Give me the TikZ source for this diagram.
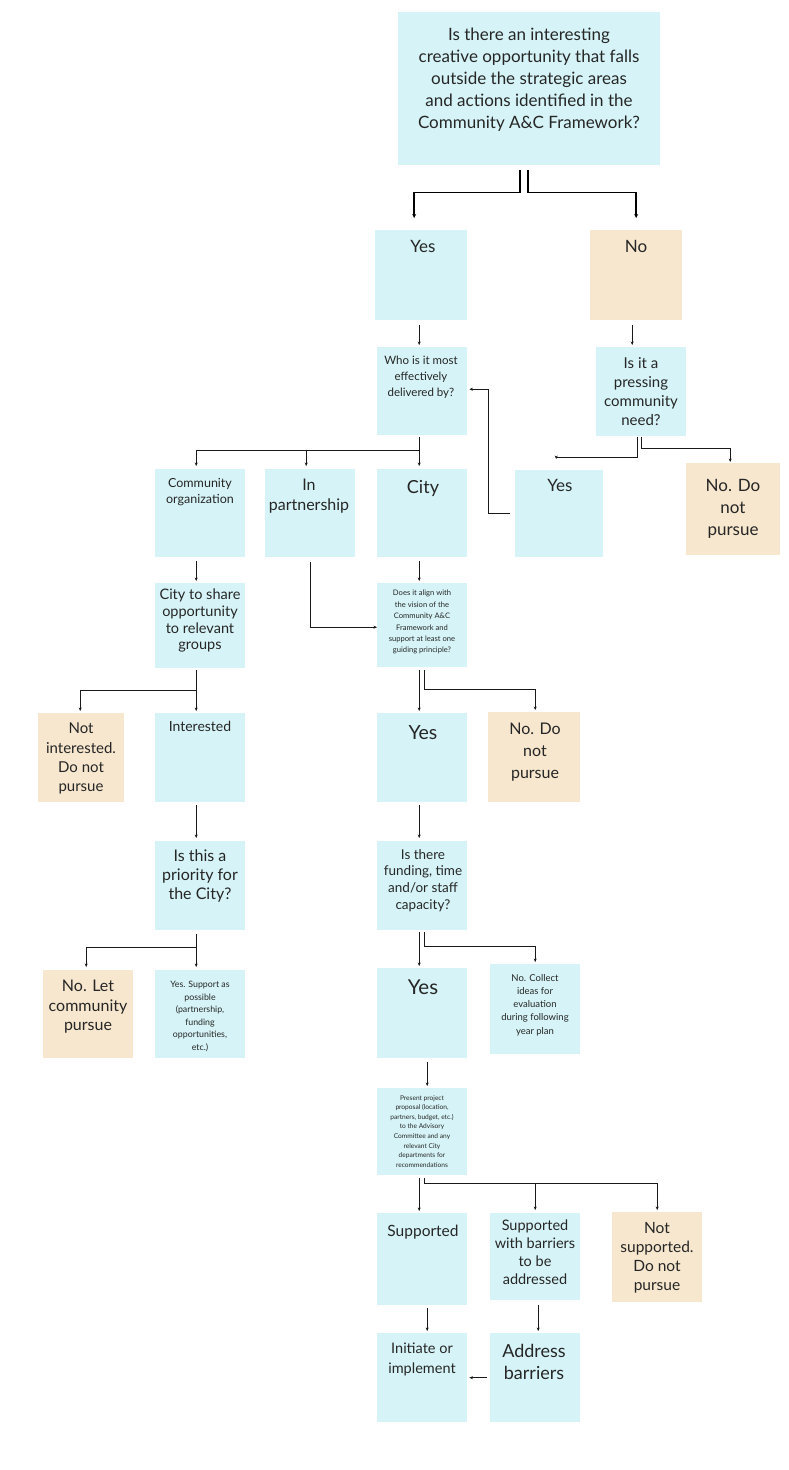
\documentclass[tikz,border=0pt]{standalone}
\usepackage{fontspec}
\setmainfont{Lato}
\usetikzlibrary{arrows.meta,calc}
\definecolor{cy}{RGB}{214,244,247}
\definecolor{be}{RGB}{246,231,206}
\tikzset{
 box/.style={fill=cy, draw=none, inner sep=0, anchor=north west},
 bbox/.style={box, fill=be},
 txt/.style={inner sep=0, align=center, anchor=north, text=black!85},
 con/.style={draw=black!90, line width=0.9pt, -{Stealth[length=3.5pt,width=3pt]}},
 tcon/.style={draw=black, line width=1.8pt, -{Stealth[length=4pt,width=4pt]}},
}
\newcommand\boxtext[6]{\node[txt,font=\fontsize{#4}{#5}\selectfont] (#1) at (#2,#3) {#6};}
\begin{document}
\begin{tikzpicture}[x=1pt,y=-1pt]
\useasboundingbox (0,0) rectangle (789,1470);
% boxes
\node[box,minimum width=262,minimum height=153] (top) at (398,12) {};
\node[box,minimum width=92,minimum height=90] (yesA) at (375,230) {};
\node[bbox,minimum width=92,minimum height=90] (noA) at (590,230) {};
\node[box,minimum width=90,minimum height=88] (who) at (377,347) {};
\node[box,minimum width=90,minimum height=89] (press) at (596,347) {};
\node[box,minimum width=88,minimum height=87] (yesR) at (515,470) {};
\node[bbox,minimum width=94,minimum height=92] (noR) at (686,463) {};
\node[box,minimum width=90,minimum height=88] (comm) at (155,469) {};
\node[box,minimum width=90,minimum height=88] (part) at (265,469) {};
\node[box,minimum width=90,minimum height=88] (city) at (377,469) {};
\node[box,minimum width=90,minimum height=84] (align) at (377,583) {};
\node[box,minimum width=90,minimum height=85] (share) at (155,583) {};
\node[bbox,minimum width=86,minimum height=89] (notint) at (38,713) {};
\node[box,minimum width=90,minimum height=89] (inter) at (155,713) {};
\node[box,minimum width=90,minimum height=89] (yesB) at (377,713) {};
\node[bbox,minimum width=92,minimum height=90] (noB) at (488,712) {};
\node[box,minimum width=90,minimum height=89] (prio) at (155,841) {};
\node[box,minimum width=90,minimum height=89] (fund) at (377,841) {};
\node[bbox,minimum width=90,minimum height=88] (nolet) at (43,970) {};
\node[box,minimum width=90,minimum height=88] (yessup) at (155,970) {};
\node[box,minimum width=90,minimum height=90] (yesC) at (377,968) {};
\node[box,minimum width=90,minimum height=90] (collect) at (490,964) {};
\node[box,minimum width=90,minimum height=87] (present) at (377,1088) {};
\node[box,minimum width=90,minimum height=92] (supp) at (377,1213) {};
\node[box,minimum width=90,minimum height=87] (suppb) at (490,1213) {};
\node[bbox,minimum width=90,minimum height=90] (notsupp) at (612,1212) {};
\node[box,minimum width=90,minimum height=89] (init) at (377,1333) {};
\node[box,minimum width=90,minimum height=89] (addr) at (490,1333) {};
% texts
\boxtext{topt}{529}{28}{17}{22}{Is there an interesting\\creative opportunity that falls\\outside the strategic areas\\and actions identified in the\\Community A\&C Framework?}
\boxtext{yesAt}{423}{240}{17}{22}{Yes}
\boxtext{noAt}{636}{240}{17}{22}{No}
\boxtext{whot}{421}{356}{11.5}{16}{Who is it most\\effectively\\delivered by?}
\boxtext{presst}{641}{357}{15}{19}{Is it a\\pressing\\community\\need?}
\boxtext{yesRt}{560}{479}{17}{22}{Yes}
\boxtext{noRt}{733}{479}{17}{22}{No. Do\\not\\pursue}
\boxtext{commt}{200}{478}{12.5}{16.5}{Community\\organization}
\boxtext{partt}{309}{479}{16}{19.5}{In\\partnership}
\boxtext{cityt}{423}{480}{18}{22}{City}
\boxtext{alignt}{422}{590}{7.6}{11.4}{Does it align with\\the vision of the\\Community A\&C\\Framework and\\support at least one\\guiding principle?}
\boxtext{sharet}{200}{589}{14.5}{16.7}{City to share\\opportunity\\to relevant\\groups}
\boxtext{notintt}{81}{723}{15}{19.3}{Not\\interested.\\Do not\\pursue}
\boxtext{intert}{200}{721}{14}{18}{Interested}
\boxtext{yesBt}{423}{725}{19.5}{22}{Yes}
\boxtext{noBt}{535}{723}{16}{22}{No. Do\\not\\pursue}
\boxtext{priot}{200}{850}{16}{19}{Is this a\\priority for\\the City?}
\boxtext{fundt}{423}{849}{13.5}{16.7}{Is there\\funding, time\\and/or staff\\capacity?}
\boxtext{nolett}{88}{980}{16}{19.5}{No. Let\\community\\pursue}
\boxtext{yessupt}{200}{981}{8.8}{12.5}{Yes. Support as\\possible\\(partnership,\\funding\\opportunities,\\etc.)}
\boxtext{yesCt}{423}{980}{20.5}{24}{Yes}
\boxtext{collectt}{535}{974}{9.5}{13.2}{No. Collect\\ideas for\\evaluation\\during following\\year plan}
\boxtext{presentt}{422}{1095}{6.6}{9.6}{Present project\\proposal (location,\\partners, budget, etc.)\\to the Advisory\\Committee and any\\relevant City\\departments for\\recommendations}
\boxtext{suppt}{423}{1225}{15.5}{19}{Supported}
\boxtext{suppbt}{535}{1220}{14.5}{18}{Supported\\with barriers\\to be\\addressed}
\boxtext{notsuppt}{657}{1222}{15.5}{19}{Not\\supported.\\Do not\\pursue}
\boxtext{initt}{422}{1343}{14.5}{20}{Initiate or\\implement}
\boxtext{addrt}{534}{1344}{18}{22.5}{Address\\barriers}
% connectors
\draw[tcon] ($(top.south)+(-9,5)$) -- ++(0,22) -| ($(yesA.north)+(-7,-12)$);
\draw[tcon] ($(top.south)+(-1,5)$) -- ++(0,22) -| ($(noA.north)+(0,-12)$);
\draw[con] ($(yesA.south)+(-2,5)$) -- ($(who.north)+(-3,-2)$);
\draw[con] ($(noA.south)+(-4,5)$) -- ($(press.north)+(-9,-2)$);
\draw[con] ($(press.south)+(-4,1)$) -- ++(0,20) -| ($(yesR.north)+(-3,-11)$);
\draw[con] ($(press.south)+(0,1)$) -- ++(0,11) -| ($(noR.north)+(-3,-1)$);
\draw[con] ($(yesR.west)+(-5,0)$) -- ++(-22,0) |- ($(who.east)+(2,-2)$);
\draw[con] ($(who.south)+(-3,2)$) -- ++(0,13) -| ($(comm.north)+(-4,-3)$);
\draw[con] ($(who.south)+(-3,2)$) -- ++(0,13) -| ($(part.north)+(-4,-3)$);
\draw[con] ($(who.south)+(-3,2)$) -- ($(city.north)+(-3,-3)$);
\draw[con] ($(city.south)+(-3,4)$) -- ($(align.north)+(-3,-2)$);
\draw[con] ($(part.south)+(0,5)$) |- ($(align.west)+(0,2)$);
\draw[con] ($(comm.south)+(-4,4)$) -- ($(share.north)+(-4,-2)$);
\draw[con] ($(share.south)+(-4,2)$) -- ++(0,20) -| ($(notint.north)+(-1,-2)$);
\draw[con] ($(share.south)+(-4,2)$) -- ($(inter.north)+(-4,-2)$);
\draw[con] ($(align.south)+(-3,3)$) -- ($(yesB.north)+(-3,-2)$);
\draw[con] ($(align.south)+(2,3)$) -- ++(0,19) -| ($(noB.north)+(1,-2)$);
\draw[con] ($(inter.south)+(-4,3)$) -- ($(prio.north)+(-4,-3)$);
\draw[con] ($(prio.south)+(-4,4)$) -- ++(0,13) -| ($(nolet.north)+(-2,-3)$);
\draw[con] ($(prio.south)+(-4,4)$) -- ($(yessup.north)+(-4,-3)$);
\draw[con] ($(yesB.south)+(-3,3)$) -- ($(fund.north)+(-3,-3)$);
\draw[con] ($(fund.south)+(-3,2)$) -- ($(yesC.north)+(-3,-2)$);
\draw[con] ($(fund.south)+(2,2)$) -- ++(0,14) -| ($(collect.north)+(0,-2)$);
\draw[con] ($(yesC.south)+(5,4)$) -- ($(present.north)+(5,-2)$);
\draw[con] ($(present.south)+(-3,3)$) -- ($(supp.north)+(-3,-2)$);
\draw[con,line width=1.2pt] ($(present.south)+(2,3)$) -- ++(0,5) -| ($(suppb.north)+(0,-3)$);
\draw[con] ($(present.south)+(2,3)$) -- ++(0,5) -| ($(notsupp.north)+(0,-2)$);
\draw[con] ($(supp.south)+(5,3)$) -- ($(init.north)+(5,-2)$);
\draw[con] ($(suppb.south)+(3,5)$) -- ($(addr.north)+(3,-2)$);
\draw[con] ($(addr.west)+(-3,0)$) -- ($(init.east)+(2,0)$);
\end{tikzpicture}
\end{document}
